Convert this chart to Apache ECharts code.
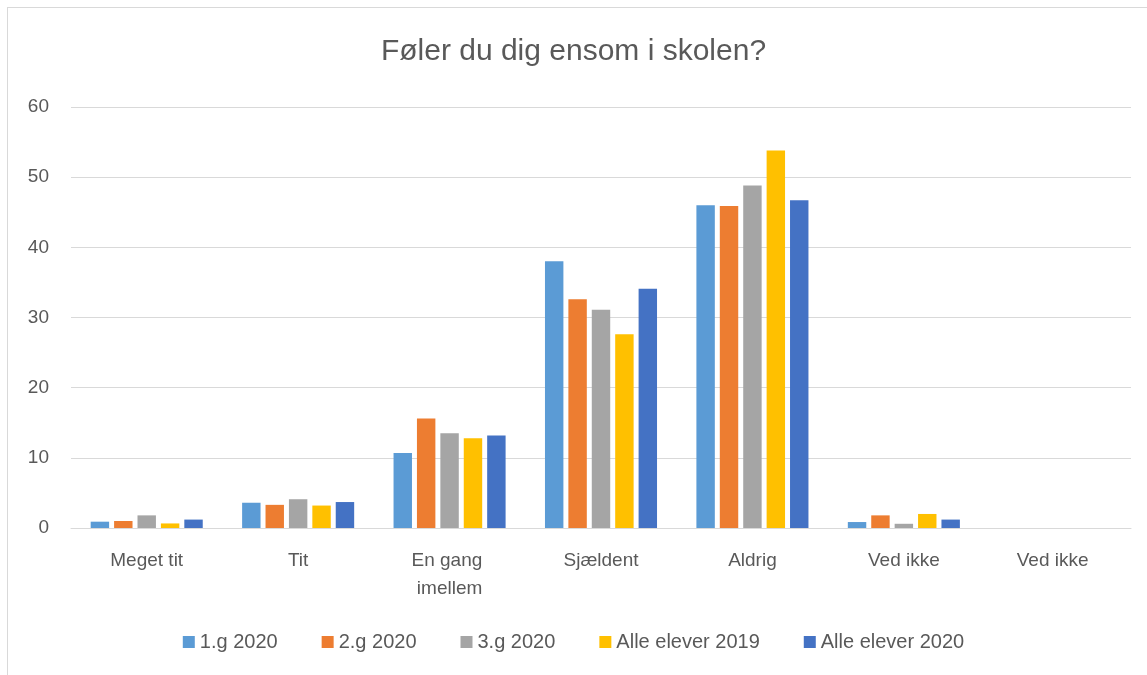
<!DOCTYPE html>
<html>
<head>
<meta charset="utf-8">
<script src="https://cdn.jsdelivr.net/npm/echarts@6/dist/echarts.min.js"></script>
<style>
  html, body { margin: 0; padding: 0; background: #fff; }
  #frame { position: absolute; left: 7px; top: 7px; width: 1140px; height: 668px; border: 1px solid #d9d9d9; border-right: none; border-bottom: none; box-sizing: border-box; }
  #main { position: absolute; left: 0; top: 0; width: 1147px; height: 675px; }
</style>
</head>
<body>
<div id="frame"></div>
<div id="main"></div>
<script>
// categories and series values
const categories = ['Meget tit', 'Tit', 'En gang imellem', 'Sjældent', 'Aldrig', 'Ved ikke', 'Ved ikke '];
const seriesNames = ['1.g 2020', '2.g 2020', '3.g 2020', 'Alle elever 2019', 'Alle elever 2020'];
const g1_2020 = [0.9, 3.6, 10.7, 38.0, 46.0, 0.85, null];
const g2_2020 = [1.0, 3.3, 15.6, 32.6, 45.9, 1.8, null];
const g3_2020 = [1.8, 4.1, 13.5, 31.1, 48.8, 0.6, null];
const alle_2019 = [0.65, 3.2, 12.8, 27.6, 53.8, 2.0, null];
const alle_2020 = [1.2, 3.7, 13.2, 34.1, 46.7, 1.2, null];
const colors = ['#5b9bd5', '#ed7d31', '#a5a5a5', '#ffc000', '#4472c4'];

const allValues = [g1_2020, g2_2020, g3_2020, alle_2019, alle_2020];
const textColor = '#595959';
const fontFam = 'Liberation Sans, Arial, sans-serif';

var myChart = echarts.init(document.getElementById('main'));

var option = {
  color: colors,
  title: {
    text: 'Føler du dig ensom i skolen?',
    left: 'center',
    top: 32,
    textStyle: { color: textColor, fontSize: 30, fontWeight: 'normal', fontFamily: fontFam }
  },
  legend: {
    data: seriesNames,
    bottom: 18,
    left: 'center',
    icon: 'rect',
    itemWidth: 12,
    itemHeight: 12,
    itemGap: 44,
    textStyle: { color: textColor, fontSize: 20, fontFamily: fontFam }
  },
  grid: { left: 71, right: 16, top: 107, bottom: 147 },
  xAxis: {
    type: 'category',
    data: categories,
    axisTick: { show: false },
    axisLine: { lineStyle: { color: '#d9d9d9', width: 1 } },
    axisLabel: {
      interval: 0,
      color: textColor, fontSize: 19, fontFamily: fontFam, margin: 19,
      width: 110, overflow: 'break', lineHeight: 28
    }
  },
  yAxis: {
    type: 'value',
    min: 0, max: 60, interval: 10,
    axisLabel: { color: textColor, fontSize: 19, fontFamily: fontFam, margin: 22 },
    splitLine: { lineStyle: { color: '#d9d9d9', width: 1 } },
    axisLine: { show: false },
    axisTick: { show: false }
  },
  series: seriesNames.map((name, i) => ({
    name: name,
    type: 'bar',
    data: allValues[i],
    barGap: '27%',
    barCategoryGap: '26%',
    itemStyle: { color: colors[i] }
  }))
};

myChart.setOption(option);
</script>
</body>
</html>
